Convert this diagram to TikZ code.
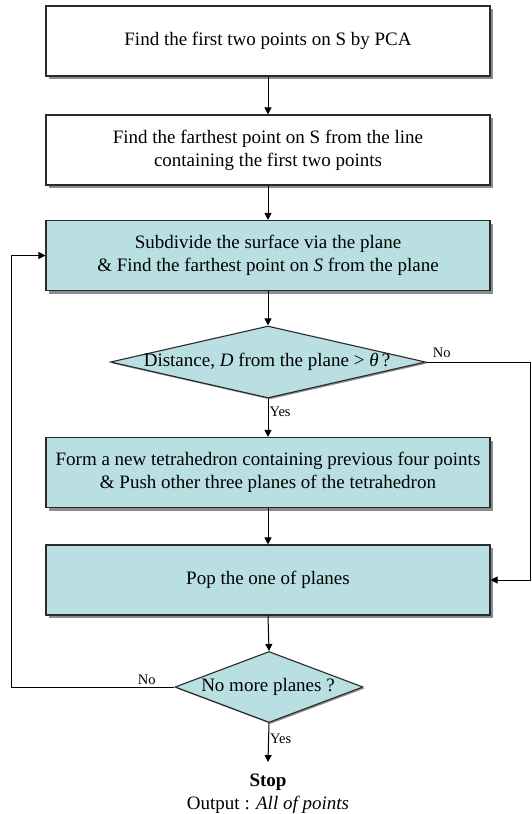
\documentclass[tikz,border=0pt]{standalone}
\usepackage{fontspec}
\setmainfont{Liberation Serif}
\usetikzlibrary{shapes.geometric,shadows,arrows.meta}
\definecolor{boxcyan}{HTML}{B9DFE3}
\definecolor{edgecol}{HTML}{2A2A2A}
\tikzset{
  proc/.style={draw=edgecol, line width=1.1pt, minimum width=444pt, minimum height=70pt,
    align=center, inner sep=0pt, font=\fontsize{19}{23}\selectfont,
    drop shadow={shadow xshift=3pt, shadow yshift=-3pt, fill=black!45, opacity=1}},
  procw/.style={proc, fill=white},
  procc/.style={proc, fill=boxcyan},
  decis/.style={diamond, draw=edgecol, line width=1.1pt, fill=boxcyan, inner sep=0pt,
    drop shadow={shadow xshift=1.5pt, shadow yshift=-1.5pt, fill=black!45, opacity=1}},
  dtext/.style={font=\fontsize{19}{23}\selectfont, inner sep=0pt},
  lbl/.style={font=\fontsize{14.5}{17}\selectfont, inner sep=1pt},
  conn/.style={line width=1pt, -{Triangle[length=7pt,width=7pt]}},
  plain/.style={line width=1pt}
}
\begin{document}
\begin{tikzpicture}[x=1pt,y=-1pt]
\useasboundingbox[fill=white] (0,0) rectangle (531,814);
\node[procw] (b1) at (268,41) {Find the first two points on S by PCA};
\node[procw] (b2) at (268,150) {Find the farthest point on S from the line\\containing the first two points};
\node[procc] (b3) at (268,255.5) {Subdivide the surface via the plane\\\& Find the farthest point on \textit{S} from the plane};
\node[decis, minimum width=315pt, minimum height=72pt] (d1) at (268,362) {};
\node[dtext] (d1t) at (267,362) {Distance, \textit{D} from the plane > \textit{θ}\,?};
\node[procc] (b4) at (268,472.5) {Form a new tetrahedron containing previous four points\\\& Push other three planes of the tetrahedron};
\node[procc] (b5) at (268,580) {Pop the one of planes};
\node[decis, minimum width=188pt, minimum height=71pt] (d2) at (269,687) {};
\node[dtext] (d2t) at (268,687) {No more planes ?};
\node[align=center, inner sep=0pt, font=\fontsize{19}{23}\selectfont] (stop) at (268,794) {\textbf{Stop}\\Output : \textit{All of points}};
\coordinate (stopin) at (268,762);
\coordinate (rc) at (530,362);
\coordinate (lc) at (11,687);

\draw[conn] (b1.south) -- (b2.north);
\draw[conn] (b2.south) -- (b3.north);
\draw[conn] (b3.south) -- (d1.north);
\draw[conn] (d1.south) -- node[lbl, right, pos=0.35] {Yes} (b4.north);
\draw[conn] (b4.south) -- (b5.north);
\draw[conn] (b5.south) -- (d2.north);
\draw[conn] (d2.south) -- node[lbl, right, pos=0.4] {Yes} (stopin);
\draw[conn] (d1.east) -- node[lbl, above=3pt, pos=0.15] {No} (rc) |- (b5.east);
\draw[conn] (d2.west) -- node[lbl, above=1pt, pos=0.17] {No} (lc) |- (b3.west);
\end{tikzpicture}
\end{document}
